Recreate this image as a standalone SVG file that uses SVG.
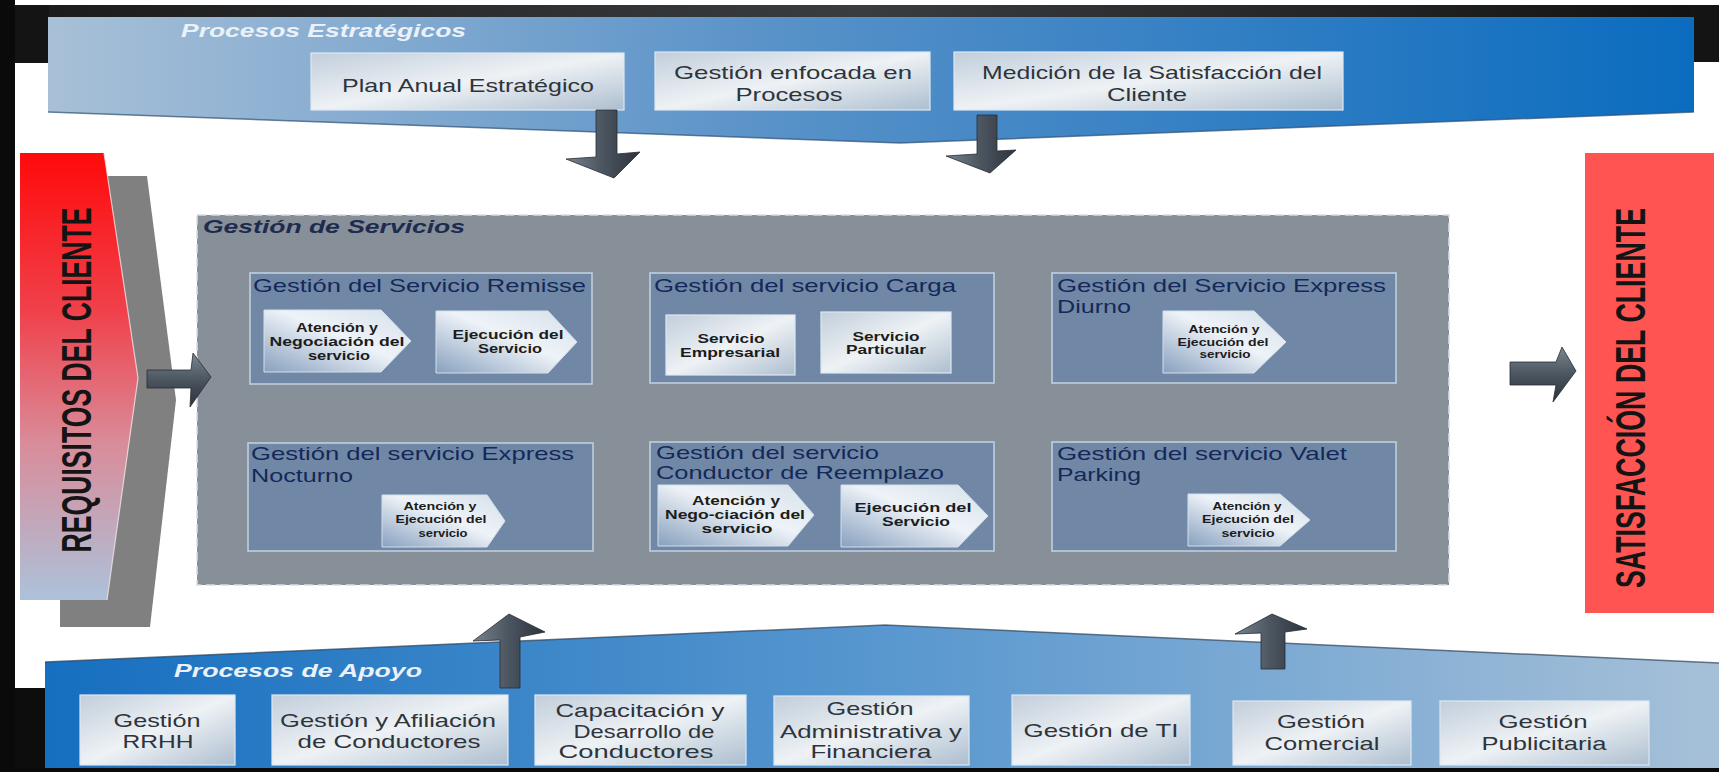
<svg xmlns="http://www.w3.org/2000/svg" width="1719" height="772" viewBox="0 0 1719 772">
  <defs>
    <linearGradient id="gTopBand" x1="0" y1="0" x2="1" y2="0">
      <stop offset="0" stop-color="#a8c0d7"/>
      <stop offset="0.45" stop-color="#5791c8"/>
      <stop offset="1" stop-color="#0b6cbf"/>
    </linearGradient>
    <linearGradient id="gBottomBand" x1="0" y1="0" x2="1" y2="0">
      <stop offset="0" stop-color="#166fc0"/>
      <stop offset="0.5" stop-color="#5897cf"/>
      <stop offset="1" stop-color="#a6c0d8"/>
    </linearGradient>
    <linearGradient id="gDarkStrip" x1="0" y1="0" x2="1" y2="0">
      <stop offset="0" stop-color="#1a1a1a"/>
      <stop offset="0.5" stop-color="#3a3d40"/>
      <stop offset="1" stop-color="#111"/>
    </linearGradient>
    <linearGradient id="gReq" x1="0" y1="0" x2="0" y2="1">
      <stop offset="0" stop-color="#ff0a0a"/>
      <stop offset="0.35" stop-color="#f0404a"/>
      <stop offset="0.65" stop-color="#d98c9a"/>
      <stop offset="1" stop-color="#acc2da"/>
    </linearGradient>
    <linearGradient id="gSilver" x1="0" y1="0" x2="1" y2="1">
      <stop offset="0" stop-color="#c2cedb"/>
      <stop offset="0.5" stop-color="#eef2f5"/>
      <stop offset="1" stop-color="#adbecf"/>
    </linearGradient>
    <linearGradient id="gStep" x1="0" y1="1" x2="1" y2="0">
      <stop offset="0" stop-color="#88a0bf"/>
      <stop offset="0.55" stop-color="#eef3f8"/>
      <stop offset="1" stop-color="#d6e0ea"/>
    </linearGradient>
    <linearGradient id="gArrowV" x1="0" y1="0" x2="1" y2="0">
      <stop offset="0" stop-color="#76828d"/>
      <stop offset="0.5" stop-color="#4b5560"/>
      <stop offset="1" stop-color="#2c333b"/>
    </linearGradient>
    <linearGradient id="gArrowH" x1="0" y1="0" x2="0" y2="1">
      <stop offset="0" stop-color="#7a8690"/>
      <stop offset="0.5" stop-color="#4b5560"/>
      <stop offset="1" stop-color="#2a3139"/>
    </linearGradient>
  </defs>
  <style>
    .band-title { font-family: "Liberation Sans", Arial, sans-serif; font-weight: bold; font-style: italic; font-size: 19px; fill: #eaf1f8; }
    .box { fill: url(#gSilver); stroke: #dce8f3; stroke-width: 1.2; }
    .box-text { font-family: "Liberation Sans", Arial, sans-serif; font-size: 18.5px; fill: #2e343c; text-anchor: middle; }
    .side-text { font-family: "Liberation Sans", Arial, sans-serif; font-weight: bold; font-size: 28px; fill: #141414; text-anchor: middle; }
    .services { fill: #878f98; stroke: #d9dde2; stroke-width: 1.6; stroke-dasharray: 9 5; }
    .services-title { font-family: "Liberation Sans", Arial, sans-serif; font-weight: bold; font-style: italic; font-size: 18px; fill: #1e2b4f; }
    .sub { fill: #7088a5; stroke: #c3d2e4; stroke-width: 1.5; }
    .sub-title { font-family: "Liberation Sans", Arial, sans-serif; font-size: 18.5px; fill: #142859; }
    .step { fill: url(#gStep); stroke: #d3dfeb; stroke-width: 1; }
    .step-text { font-family: "Liberation Sans", Arial, sans-serif; font-weight: bold; font-size: 12.5px; fill: #1c1c1c; text-anchor: middle; }
    .step-small { font-family: "Liberation Sans", Arial, sans-serif; font-weight: bold; font-size: 11px; fill: #1c1c1c; text-anchor: middle; }
    .arrow-v { fill: url(#gArrowV); stroke: #262c33; stroke-width: 0.8; }
    .arrow-h { fill: url(#gArrowH); stroke: #262c33; stroke-width: 0.8; }
  </style>

  <!-- page background and dark frame -->
  <rect x="0" y="0" width="1719" height="772" fill="#ffffff"/>
  <rect x="0" y="5" width="1719" height="12" fill="url(#gDarkStrip)"/>
  <rect x="15" y="5" width="34" height="58" fill="#141414"/>
  <rect x="1690" y="5" width="29" height="57" fill="#141414"/>
  <rect x="15" y="688" width="32" height="84" fill="#0d0d0d"/>

  <!-- strategic processes band -->
  <g id="strategic-band">
    <polygon points="48,17 1694,17 1694,112 900,143 48,112" fill="url(#gTopBand)"/>
    <polyline points="48,112 900,143 1694,112" fill="none" stroke="#2c4f73" stroke-width="1.5" opacity="0.7"/>
    <text class="band-title" x="181" y="37" textLength="285" lengthAdjust="spacingAndGlyphs">Procesos Estratégicos</text>
  </g>
  <g id="plan-anual">
    <rect class="box" x="311" y="53" width="313" height="57"/>
    <text class="box-text" x="468" y="92" textLength="252" lengthAdjust="spacingAndGlyphs">Plan Anual Estratégico</text>
  </g>
  <g id="gestion-procesos">
    <rect class="box" x="655" y="52" width="275" height="58"/>
    <text class="box-text" x="793" y="79" textLength="238" lengthAdjust="spacingAndGlyphs">Gestión enfocada en</text>
    <text class="box-text" x="789" y="101" textLength="107" lengthAdjust="spacingAndGlyphs">Procesos</text>
  </g>
  <g id="medicion-satisfaccion">
    <rect class="box" x="954" y="52" width="389" height="58"/>
    <text class="box-text" x="1152" y="79" textLength="340" lengthAdjust="spacingAndGlyphs">Medición de la Satisfacción del</text>
    <text class="box-text" x="1147" y="101" textLength="80" lengthAdjust="spacingAndGlyphs">Cliente</text>
  </g>

  <!-- customer requirements -->
  <g id="requisitos">
    <polygon points="60,176 147,176 176,400 150,627 60,627" fill="#808080"/>
    <polygon points="20,153 104,153 138,378 107,600 20,600" fill="url(#gReq)"/>
    <polyline points="104,153 138,378 107,600" fill="none" stroke="#f6e4e8" stroke-width="1.2" opacity="0.8"/>
    <text class="side-text" transform="translate(91,380) scale(1.5,1) rotate(-90)" textLength="345" lengthAdjust="spacingAndGlyphs">REQUISITOS DEL CLIENTE</text>
  </g>

  <!-- customer satisfaction -->
  <g id="satisfaccion">
    <rect x="1585" y="153" width="129" height="460" fill="#fe5552"/>
    <text class="side-text" transform="translate(1645,398) scale(1.5,1) rotate(-90)" textLength="380" lengthAdjust="spacingAndGlyphs">SATISFACCIÓN DEL CLIENTE</text>
  </g>

  <!-- service management -->
  <g id="gestion-servicios">
    <rect class="services" x="197" y="215" width="1252" height="370"/>
    <text class="services-title" x="203" y="233" textLength="262" lengthAdjust="spacingAndGlyphs">Gestión de Servicios</text>
  </g>

  <g id="servicio-remisse">
    <rect class="sub" x="250" y="273" width="342" height="111"/>
    <text class="sub-title" x="253" y="292" textLength="333" lengthAdjust="spacingAndGlyphs">Gestión del Servicio Remisse</text>
    <polygon class="step" points="264,310 381,310 411,341 381,372 264,372"/>
    <text class="step-text" x="337" y="332" textLength="82" lengthAdjust="spacingAndGlyphs">Atención y</text>
    <text class="step-text" x="337" y="346" textLength="135" lengthAdjust="spacingAndGlyphs">Negociación del</text>
    <text class="step-text" x="339" y="360" textLength="62" lengthAdjust="spacingAndGlyphs">servicio</text>
    <polygon class="step" points="436,311 548,311 577,342 548,373 436,373"/>
    <text class="step-text" x="508" y="339" textLength="111" lengthAdjust="spacingAndGlyphs">Ejecución del</text>
    <text class="step-text" x="510" y="353" textLength="64" lengthAdjust="spacingAndGlyphs">Servicio</text>
  </g>

  <g id="servicio-carga">
    <rect class="sub" x="650" y="273" width="344" height="110"/>
    <text class="sub-title" x="654" y="292" textLength="302" lengthAdjust="spacingAndGlyphs">Gestión del servicio Carga</text>
    <rect class="box" x="666" y="315" width="129" height="60"/>
    <text class="step-text" x="731" y="343" textLength="67" lengthAdjust="spacingAndGlyphs">Servicio</text>
    <text class="step-text" x="730" y="357" textLength="100" lengthAdjust="spacingAndGlyphs">Empresarial</text>
    <rect class="box" x="821" y="312" width="130" height="61"/>
    <text class="step-text" x="886" y="341" textLength="67" lengthAdjust="spacingAndGlyphs">Servicio</text>
    <text class="step-text" x="886" y="354" textLength="80" lengthAdjust="spacingAndGlyphs">Particular</text>
  </g>

  <g id="servicio-express-diurno">
    <rect class="sub" x="1052" y="273" width="344" height="110"/>
    <text class="sub-title" x="1057" y="292" textLength="329" lengthAdjust="spacingAndGlyphs">Gestión del Servicio Express</text>
    <text class="sub-title" x="1057" y="313" textLength="74" lengthAdjust="spacingAndGlyphs">Diurno</text>
    <polygon class="step" points="1163,311 1254,311 1286,342 1254,373 1163,373"/>
    <text class="step-small" x="1224" y="333" textLength="71" lengthAdjust="spacingAndGlyphs">Atención y</text>
    <text class="step-small" x="1223" y="346" textLength="91" lengthAdjust="spacingAndGlyphs">Ejecución del</text>
    <text class="step-small" x="1225" y="358" textLength="51" lengthAdjust="spacingAndGlyphs">servicio</text>
  </g>

  <g id="servicio-express-nocturno">
    <rect class="sub" x="248" y="443" width="345" height="108"/>
    <text class="sub-title" x="251" y="460" textLength="323" lengthAdjust="spacingAndGlyphs">Gestión del servicio Express</text>
    <text class="sub-title" x="251" y="482" textLength="102" lengthAdjust="spacingAndGlyphs">Nocturno</text>
    <polygon class="step" points="382,495 487,495 505,521 487,547 382,547"/>
    <text class="step-small" x="440" y="510" textLength="73" lengthAdjust="spacingAndGlyphs">Atención y</text>
    <text class="step-small" x="441" y="523" textLength="91" lengthAdjust="spacingAndGlyphs">Ejecución del</text>
    <text class="step-small" x="443" y="537" textLength="49" lengthAdjust="spacingAndGlyphs">servicio</text>
  </g>

  <g id="servicio-conductor-reemplazo">
    <rect class="sub" x="650" y="442" width="344" height="109"/>
    <text class="sub-title" x="656" y="459" textLength="223" lengthAdjust="spacingAndGlyphs">Gestión del servicio</text>
    <text class="sub-title" x="656" y="479" textLength="288" lengthAdjust="spacingAndGlyphs">Conductor de Reemplazo</text>
    <polygon class="step" points="658,485 788,485 814,515 788,546 658,546"/>
    <text class="step-text" x="736" y="505" textLength="88" lengthAdjust="spacingAndGlyphs">Atención y</text>
    <text class="step-text" x="735" y="519" textLength="140" lengthAdjust="spacingAndGlyphs">Nego-ciación del</text>
    <text class="step-text" x="737" y="533" textLength="71" lengthAdjust="spacingAndGlyphs">servicio</text>
    <polygon class="step" points="841,485 958,485 988,516 958,547 841,547"/>
    <text class="step-text" x="913" y="512" textLength="117" lengthAdjust="spacingAndGlyphs">Ejecución del</text>
    <text class="step-text" x="916" y="526" textLength="68" lengthAdjust="spacingAndGlyphs">Servicio</text>
  </g>

  <g id="servicio-valet-parking">
    <rect class="sub" x="1052" y="442" width="344" height="109"/>
    <text class="sub-title" x="1057" y="460" textLength="290" lengthAdjust="spacingAndGlyphs">Gestión del servicio Valet</text>
    <text class="sub-title" x="1057" y="481" textLength="84" lengthAdjust="spacingAndGlyphs">Parking</text>
    <polygon class="step" points="1188,494 1280,494 1310,520 1280,546 1188,546"/>
    <text class="step-small" x="1247" y="510" textLength="69" lengthAdjust="spacingAndGlyphs">Atención y</text>
    <text class="step-small" x="1248" y="523" textLength="92" lengthAdjust="spacingAndGlyphs">Ejecución del</text>
    <text class="step-small" x="1248" y="537" textLength="53" lengthAdjust="spacingAndGlyphs">servicio</text>
  </g>

  <!-- support processes band -->
  <g id="support-band">
    <polygon points="45,662 885,625 1719,663 1719,768 45,768" fill="url(#gBottomBand)"/>
    <polyline points="45,662 885,625 1719,663" fill="none" stroke="#2d4257" stroke-width="1.5" opacity="0.7"/>
    <text class="band-title" x="174" y="677" textLength="248" lengthAdjust="spacingAndGlyphs">Procesos de Apoyo</text>
  </g>
  <g id="gestion-rrhh">
    <rect class="box" x="80" y="695" width="155" height="70"/>
    <text class="box-text" x="157" y="727" textLength="87" lengthAdjust="spacingAndGlyphs">Gestión</text>
    <text class="box-text" x="158" y="748" textLength="71" lengthAdjust="spacingAndGlyphs">RRHH</text>
  </g>
  <g id="afiliacion-conductores">
    <rect class="box" x="272" y="695" width="236" height="70"/>
    <text class="box-text" x="388" y="727" textLength="216" lengthAdjust="spacingAndGlyphs">Gestión y Afiliación</text>
    <text class="box-text" x="389" y="748" textLength="183" lengthAdjust="spacingAndGlyphs">de Conductores</text>
  </g>
  <g id="capacitacion-conductores">
    <rect class="box" x="535" y="695" width="211" height="70"/>
    <text class="box-text" x="640" y="717" textLength="169" lengthAdjust="spacingAndGlyphs">Capacitación y</text>
    <text class="box-text" x="644" y="738" textLength="141" lengthAdjust="spacingAndGlyphs">Desarrollo de</text>
    <text class="box-text" x="636" y="758" textLength="155" lengthAdjust="spacingAndGlyphs">Conductores</text>
  </g>
  <g id="gestion-administrativa">
    <rect class="box" x="774" y="696" width="195" height="69"/>
    <text class="box-text" x="870" y="715" textLength="87" lengthAdjust="spacingAndGlyphs">Gestión</text>
    <text class="box-text" x="871" y="738" textLength="182" lengthAdjust="spacingAndGlyphs">Administrativa y</text>
    <text class="box-text" x="871" y="758" textLength="121" lengthAdjust="spacingAndGlyphs">Financiera</text>
  </g>
  <g id="gestion-ti">
    <rect class="box" x="1012" y="695" width="178" height="70"/>
    <text class="box-text" x="1101" y="737" textLength="155" lengthAdjust="spacingAndGlyphs">Gestión de TI</text>
  </g>
  <g id="gestion-comercial">
    <rect class="box" x="1233" y="701" width="178" height="64"/>
    <text class="box-text" x="1321" y="728" textLength="88" lengthAdjust="spacingAndGlyphs">Gestión</text>
    <text class="box-text" x="1322" y="750" textLength="115" lengthAdjust="spacingAndGlyphs">Comercial</text>
  </g>
  <g id="gestion-publicitaria">
    <rect class="box" x="1440" y="701" width="209" height="64"/>
    <text class="box-text" x="1543" y="728" textLength="89" lengthAdjust="spacingAndGlyphs">Gestión</text>
    <text class="box-text" x="1544" y="750" textLength="125" lengthAdjust="spacingAndGlyphs">Publicitaria</text>
  </g>

  <!-- flow arrows between the process areas -->
  <g id="connectors">
    <polygon class="arrow-v" points="596,110 617,110 617,154 640,152 614,178 566,159 596,157"/>
    <polygon class="arrow-v" points="977,115 997,115 997,151 1016,150 990,173 946,156 977,154"/>
    <polygon class="arrow-h" points="147,370 191,370 193,353 211,377 190,407 191,388 147,388"/>
    <polygon class="arrow-h" points="1510,362 1556,362 1562,347 1576,371 1553,402 1556,385 1510,385"/>
    <polygon class="arrow-v" points="500,688 500,640 473,641 509,614 545,632 520,637 520,688"/>
    <polygon class="arrow-v" points="1261,669 1261,633 1235,634 1272,614 1307,629 1285,632 1285,669"/>
  </g>

  <!-- frame edges -->
  <rect x="0" y="0" width="15" height="772" fill="#0a0a0a"/>
  <rect x="0" y="768" width="1719" height="4" fill="#0a0a0a"/>
</svg>
